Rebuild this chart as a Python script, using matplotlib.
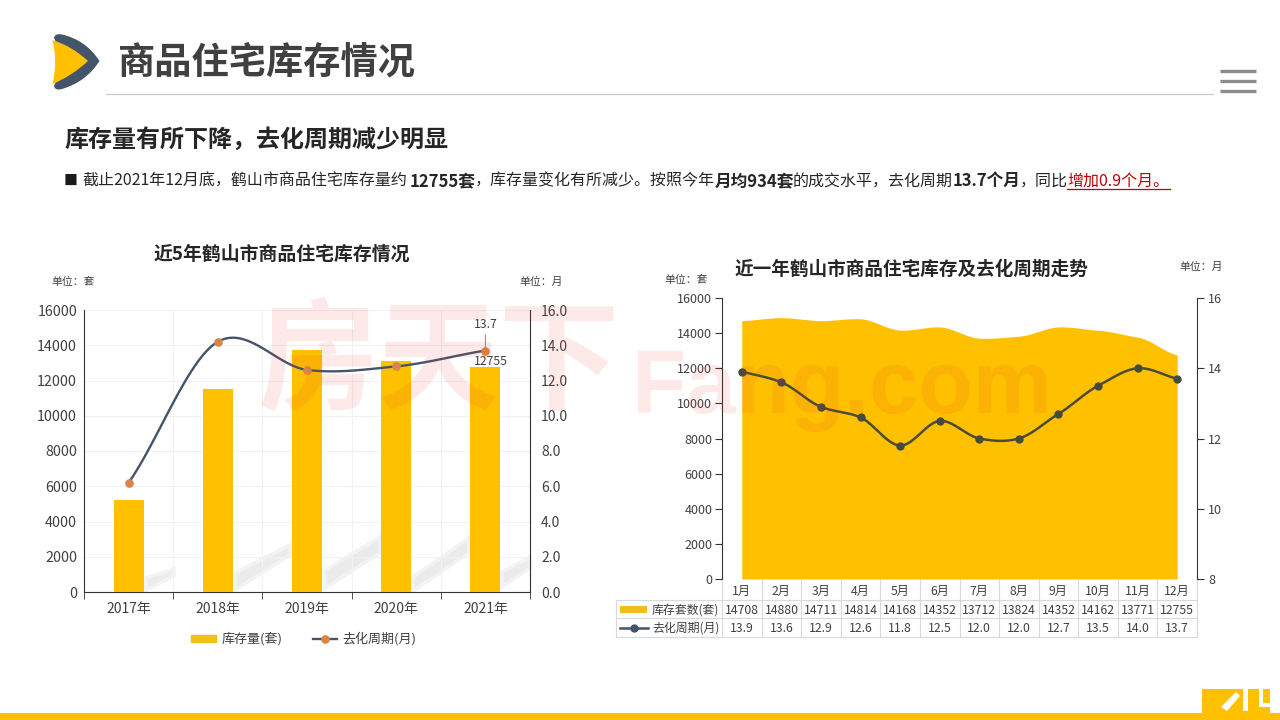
import numpy as np
import matplotlib
matplotlib.use('Agg')
import matplotlib.pyplot as plt
from matplotlib.patches import Polygon, Rectangle, PathPatch
from matplotlib.path import Path
from matplotlib.lines import Line2D

plt.rcParams['font.family'] = ['Noto Sans CJK SC', 'DejaVu Sans']

# ---- data ----
years = ['2017年', '2018年', '2019年', '2020年', '2021年']
stock_year = [5200, 11500, 13750, 13100, 12755]
cycle_year = [6.2, 14.2, 12.6, 12.8, 13.7]
months = ['1月', '2月', '3月', '4月', '5月', '6月', '7月', '8月', '9月', '10月', '11月', '12月']
stock_month = [14708, 14880, 14711, 14814, 14168, 14352, 13712, 13824, 14352, 14162, 13771, 12755]
cycle_month = [13.9, 13.6, 12.9, 12.6, 11.8, 12.5, 12.0, 12.0, 12.7, 13.5, 14.0, 13.7]

YEL = '#FFC000'
NAVY = '#44546A'
W, H = 1280, 720
fig = plt.figure(figsize=(12.8, 7.2), dpi=100, facecolor='white')


def box(l, t, r, b):
    return [l / W, 1 - b / H, (r - l) / W, (b - t) / H]


def smooth(x, y, n=24, k=0.45):
    x = np.asarray(x, float)
    y = np.asarray(y, float)
    xs, ys = [], []
    m = len(x)
    for i in range(m - 1):
        p0 = max(i - 1, 0)
        p3 = min(i + 2, m - 1)
        dy1 = (y[i + 1] - y[p0]) * k / (x[i + 1] - x[p0]) * (x[i + 1] - x[i])
        dy2 = (y[p3] - y[i]) * k / (x[p3] - x[i]) * (x[i + 1] - x[i])
        t = np.linspace(0, 1, n)
        h00 = 2 * t**3 - 3 * t**2 + 1
        h10 = t**3 - 2 * t**2 + t
        h01 = -2 * t**3 + 3 * t**2
        h11 = t**3 - t**2
        xs.append(x[i] + t * (x[i + 1] - x[i]))
        ys.append(h00 * y[i] + h10 * dy1 * 2 + h01 * y[i + 1] + h11 * dy2 * 2)
    return np.concatenate(xs), np.concatenate(ys)


# ---- background decoration layer (pixel coordinates) ----
bg = fig.add_axes([0, 0, 1, 1], zorder=0)
bg.set_xlim(0, W)
bg.set_ylim(H, 0)
bg.axis('off')

for pts in [[(146, 590), (146, 578), (174, 569), (174, 576)],
            [(235, 590), (235, 573), (290, 545), (290, 555)],
            [(325, 588), (325, 570), (380, 537), (380, 553)],
            [(413, 591), (413, 577), (469, 538), (469, 553)],
            [(502, 587), (502, 572), (530, 557), (530, 568)]]:
    bg.add_patch(Polygon(pts, closed=True, facecolor='#ebebeb', edgecolor='#f3f3f3', lw=2.5))

# ---- left chart ----
axL = fig.add_axes(box(84, 310, 530, 592), zorder=1)
axL.patch.set_alpha(0)
xL = np.arange(len(years))
axL.bar(xL, stock_year, width=0.335, color=YEL, label='库存量(套)', zorder=3)
axL.set_xlim(-0.5, 4.5)
axL.set_ylim(0, 16000)
axL.set_yticks(np.arange(0, 16001, 2000))
axL.set_xticks(xL)
axL.set_xticklabels(years)
axL.set_xticks(np.arange(-0.5, 5), minor=True)
axL.tick_params(axis='x', which='major', length=0, labelsize=10, pad=7, labelcolor='#404040')
axL.tick_params(axis='x', which='minor', length=5, color='#333333')
axL.tick_params(axis='y', length=0, labelsize=10.3, pad=5, labelcolor='#404040')
axL.grid(True, which='major', axis='y', color='#f2f2f2', lw=.8, zorder=0)
axL.grid(True, which='minor', axis='x', color='#f2f2f2', lw=.8, zorder=0)
for s in ['top', 'right']:
    axL.spines[s].set_visible(False)
axL.spines['left'].set_color('#333333')
axL.spines['bottom'].set_color('#333333')

axL2 = axL.twinx()
axL2.patch.set_alpha(0)
sx, sy = smooth(xL, cycle_year)
axL2.plot(sx, sy, color=NAVY, lw=1.7, zorder=4)
axL2.plot(xL, cycle_year, ls='none', marker='o', ms=5.2, color='#D98545', zorder=5)
axL2.set_ylim(0, 16)
axL2.set_yticks(np.arange(0, 16.1, 2))
axL2.set_yticklabels([f'{v:.1f}' for v in np.arange(0, 16.1, 2)])
axL2.tick_params(axis='y', length=0, labelsize=10, pad=8, labelcolor='#404040')
for s in ['top', 'left', 'bottom']:
    axL2.spines[s].set_visible(False)
axL2.spines['right'].set_color('#333333')
axL2.annotate(f'{cycle_year[-1]}', (xL[-1], cycle_year[-1]), xytext=(xL[-1], cycle_year[-1] + 1.5),
              ha='center', va='center', fontsize=8.8, color='#404040',
              arrowprops=dict(arrowstyle='-', color='#888888', lw=.7, shrinkA=1, shrinkB=0))
axL.text(xL[-1] + 0.06, stock_year[-1] - 20, f'{stock_year[-1]}', ha='center', va='bottom',
         fontsize=8.8, color='#404040', zorder=6)
handles = [Rectangle((0, 0), 1, 1, color='#F2BE1A', label='库存量(套)'),
           Line2D([], [], color=NAVY, lw=1.7, marker='o', ms=5.2, mfc='#D98545', mec='#D98545',
                  label='去化周期(月)')]
fig.legend(handles=handles, loc='center', bbox_to_anchor=(304 / W, 1 - 639 / H), ncol=2, frameon=False,
           fontsize=9.4, labelcolor='#404040', handlelength=1.9, handleheight=.45, columnspacing=2.3,
           handletextpad=.4)

# ---- right chart ----
axR = fig.add_axes(box(722, 298, 1197, 579), zorder=1)
axR.patch.set_alpha(0)
xR = np.arange(len(months))
ax_, ay_ = smooth(xR, stock_month, k=0.25)
axR.fill_between(ax_, 0, ay_, color=YEL, lw=0, zorder=2)
axR.set_xlim(-0.5, 11.5)
axR.set_ylim(0, 16000)
axR.set_yticks(np.arange(0, 16001, 2000))
axR.set_xticks(xR)
axR.set_xticklabels(months)
axR.tick_params(axis='x', length=0, labelsize=8.8, pad=4, labelcolor='#404040')
axR.tick_params(axis='y', length=5, width=.8, labelsize=9, pad=2, labelcolor='#404040', color='#333333')
for s in ['top', 'right', 'bottom']:
    axR.spines[s].set_visible(False)
axR.spines['left'].set_color('#333333')

axR2 = axR.twinx()
axR2.patch.set_alpha(0)
sx, sy = smooth(xR, cycle_month)
axR2.plot(sx, sy, color='#4A4C35', lw=1.8, zorder=4)
axR2.plot(xR, cycle_month, ls='none', marker='o', ms=5, color='#454B3C', zorder=5)
axR2.set_ylim(8, 16)
axR2.set_yticks(np.arange(8, 17, 2))
axR2.tick_params(axis='y', length=5, width=.8, labelsize=9, pad=3, labelcolor='#404040', color='#333333')
for s in ['top', 'left', 'bottom']:
    axR2.spines[s].set_visible(False)
axR2.spines['right'].set_color('#333333')

# data table under the right chart
trans = axR.get_xaxis_transform()
yf = lambda py: (579 - py) / (579 - 298)
for py in (600, 618, 637):
    bg.plot([616, 1197], [py, py], color='#d9d9d9', lw=.8)
for i in range(13):
    axR.plot([i - 0.5, i - 0.5], [yf(579), yf(637)], transform=trans, color='#d9d9d9', lw=.8, clip_on=False)
bg.plot([616, 616], [600, 637], color='#d9d9d9', lw=.8)
for i in xR:
    axR.text(i, yf(610), str(stock_month[i]), transform=trans, ha='center', va='center', fontsize=8.8,
             color='#404040', clip_on=False)
    axR.text(i, yf(628.5), f'{cycle_month[i]:.1f}', transform=trans, ha='center', va='center', fontsize=8.8,
             color='#404040', clip_on=False)
bg.add_patch(Rectangle((620, 606), 27, 7, color='#F2BE1A', lw=0))
bg.text(652, 610, '库存套数(套)', fontsize=8.6, va='center', color='#404040')
bg.plot([620, 648], [628, 628], color=NAVY, lw=1.8)
bg.plot([634], [628], marker='o', ms=5, color=NAVY)
bg.text(652, 628.5, '去化周期(月)', fontsize=8.6, va='center', color='#404040')

# ---- foreground text and decoration ----
fg = fig.add_axes([0, 0, 1, 1], zorder=5)
fg.set_xlim(0, W)
fg.set_ylim(H, 0)
fg.axis('off')


def qpath(start, segs):
    verts = [start]
    codes = [Path.MOVETO]
    for c, p in segs:
        verts += [c, p]
        codes += [Path.CURVE3, Path.CURVE3]
    verts.append(start)
    codes.append(Path.CLOSEPOLY)
    return Path(verts, codes)


# logo
fg.add_patch(PathPatch(qpath((54, 38), [((55, 33), (62, 34.5)), ((86, 40), (99.5, 61)), ((86, 82), (62, 89)),
                                        ((55, 91), (54, 86)), ((66, 61), (54, 38))]),
                       facecolor=NAVY, lw=0))
fg.add_patch(PathPatch(qpath((52.5, 40), [((72, 46), (88, 61)), ((72, 76), (52.5, 84)), ((58, 62), (52.5, 40))]),
                       facecolor=YEL, lw=0))
fg.text(118, 63, '商品住宅库存情况', fontsize=26.8, fontweight='bold', color='#404040', va='center')
fg.plot([106, 1213], [93.5, 93.5], color='#c8c8c8', lw=.9)
for py in (71, 81, 91):
    fg.plot([1220, 1256], [py, py], color='#8c8c8c', lw=2.4, solid_capstyle='butt')

fg.text(64, 140, '库存量有所下降，去化周期减少明显', fontsize=17.3, fontweight='bold', color='#262626',
        va='center')
runs = [(64, '■', 'normal', '#1a1a1a', 10), (82, '截止2021年12月底，鹤山市商品住宅库存量约', 'normal', '#262626', 11.5),
        (410, '12755套', 'bold', '#262626', 12), (475, '，库存量变化有所减少。按照今年', 'normal', '#262626', 11.5),
        (715, '月均934套', 'bold', '#262626', 12), (793, '的成交水平，去化周期', 'normal', '#262626', 11.5),
        (953, '13.7个月', 'bold', '#262626', 12), (1020, '，同比', 'normal', '#262626', 11.5),
        (1067, '增加0.9个月。', 'normal', '#C00000', 11.5)]
for px, s, w, c, fs in runs:
    fg.text(px, 181, s, fontsize=fs, fontweight=w, color=c, va='center')
fg.plot([1067, 1170], [188.5, 188.5], color='#C00000', lw=.9)

fg.text(282, 254, '近5年鹤山市商品住宅库存情况', fontsize=13.6, fontweight='bold', color='#262626',
        ha='center', va='center')
fg.text(911, 269, '近一年鹤山市商品住宅库存及去化周期走势', fontsize=13.4, fontweight='bold', color='#262626',
        ha='center', va='center')
fg.text(51, 282, '单位：套', fontsize=7.8, color='#404040', va='center')
fg.text(519, 282, '单位：月', fontsize=7.8, color='#404040', va='center')
fg.text(664, 280, '单位：套', fontsize=7.8, color='#404040', va='center')
fg.text(1179, 267, '单位：月', fontsize=7.8, color='#404040', va='center')

# watermark
fg.text(257, 365, '房天下', fontsize=87, fontweight=900, color='#E53935', alpha=.11, va='center')
fg.text(632, 413, 'Fang.com', fontsize=64, fontweight='bold', family='Liberation Sans',
        color='#E53935', alpha=.11, va='baseline')

# bottom band
fg.add_patch(Rectangle((0, 713), W, 7, color=YEL, lw=0))
fg.add_patch(Rectangle((1202, 689), 68, 24, color=YEL, lw=0))
fg.add_patch(Polygon([(1221, 707), (1236, 692), (1240, 696), (1227, 711)], closed=True, color='white', lw=0))
fg.add_patch(Rectangle((1243, 689), 5, 22, color='white', lw=0))
fg.add_patch(Rectangle((1259, 689), 4, 14, color='white', lw=0))
fg.add_patch(Rectangle((1259, 703), 11, 4, color='white', lw=0))

fig.savefig('out.png', dpi=100)
